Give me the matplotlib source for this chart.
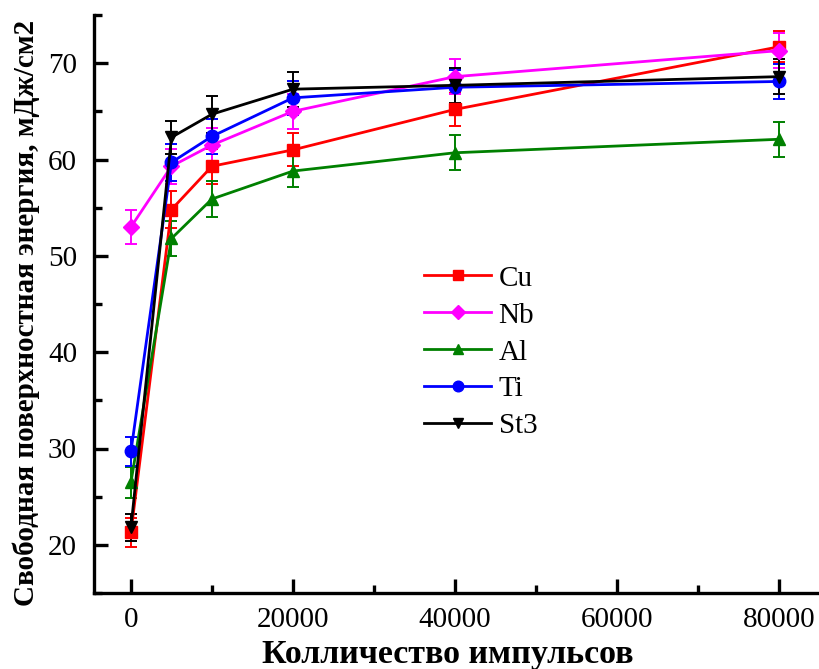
import matplotlib
matplotlib.use("Agg")
import matplotlib.pyplot as plt
from matplotlib.ticker import MultipleLocator

pulses = [0, 5000, 10000, 20000, 40000, 80000]

cu = [21.3, 54.8, 59.3, 61.0, 65.2, 71.7]
cu_err = [1.5, 1.9, 1.8, 1.7, 1.7, 1.6]
nb = [53.0, 59.3, 61.5, 65.0, 68.6, 71.3]
nb_err = [1.8, 1.8, 1.8, 1.8, 1.8, 1.8]
al = [26.5, 51.8, 55.9, 58.8, 60.7, 62.1]
al_err = [1.6, 1.8, 1.9, 1.7, 1.8, 1.8]
ti = [29.7, 59.7, 62.4, 66.4, 67.5, 68.1]
ti_err = [1.5, 1.9, 1.8, 1.8, 1.8, 1.8]
st3 = [21.8, 62.3, 64.7, 67.3, 67.7, 68.6]
st3_err = [1.4, 1.7, 1.9, 1.8, 1.8, 1.8]

series = [
    ("Cu", cu, cu_err, "#ff0000", "s"),
    ("Nb", nb, nb_err, "#ff00ff", "D"),
    ("Al", al, al_err, "#008000", "^"),
    ("Ti", ti, ti_err, "#0000ff", "o"),
    ("St3", st3, st3_err, "#000000", "v"),
]

plt.rcParams['font.family'] = ['Liberation Serif', 'DejaVu Serif']

W, H = 819, 669
fig = plt.figure(figsize=(W / 100, H / 100), dpi=100)
ax_left, ax_w = 93.7, 725.8
ax_bottom, ax_h = 593, 578
ax = fig.add_axes([ax_left / W, (H - ax_bottom) / H, ax_w / W, ax_h / H])

handles = []
for name, vals, errs, col, mk in series:
    ms = 8 if mk in ("D", "s") else 9
    cont = ax.errorbar(pulses, vals, yerr=errs, color=col, marker=mk, markersize=ms,
                       linewidth=2.0, elinewidth=1.4, capsize=4.5, capthick=1.4,
                       label=name)
    handles.append(cont[0])

ax.set_xlim(-4600, 85000)
ax.set_ylim(15, 75)
ax.xaxis.set_minor_locator(MultipleLocator(10000))
ax.yaxis.set_major_locator(MultipleLocator(10))
ax.yaxis.set_minor_locator(MultipleLocator(5))
ax.set_xticks([0, 20000, 40000, 60000, 80000])
ax.set_xticklabels(["0", "20000", "40000", "60000", "80000"])

for s in ["top", "right"]:
    ax.spines[s].set_visible(False)
for s in ["left", "bottom"]:
    ax.spines[s].set_linewidth(2.4)

ax.tick_params(which="major", direction="in", length=10, width=2.4, labelsize=21)
ax.tick_params(which="minor", direction="in", length=6, width=2.4)
ax.tick_params(axis="y", which="major", pad=12)
ax.tick_params(axis="x", which="major", pad=10)

ax.set_xlabel("Колличество импульсов", fontsize=24.5, fontweight="bold")
ax.xaxis.set_label_coords(0.488, -0.079)
ax.set_ylabel("Свободная поверхностная энергия, мДж/см2", fontsize=21, fontweight="bold")
ax.yaxis.set_label_coords(-0.074, 0.484)

leg = ax.legend(handles, [s[0] for s in series], loc="upper left",
                bbox_to_anchor=(398 / W, (H - 239) / H),
                bbox_transform=fig.transFigure, frameon=False, fontsize=21,
                handlelength=2.3, handletextpad=0.25, labelspacing=0.36,
                markerscale=0.85)

fig.savefig("out.png", dpi=100)
